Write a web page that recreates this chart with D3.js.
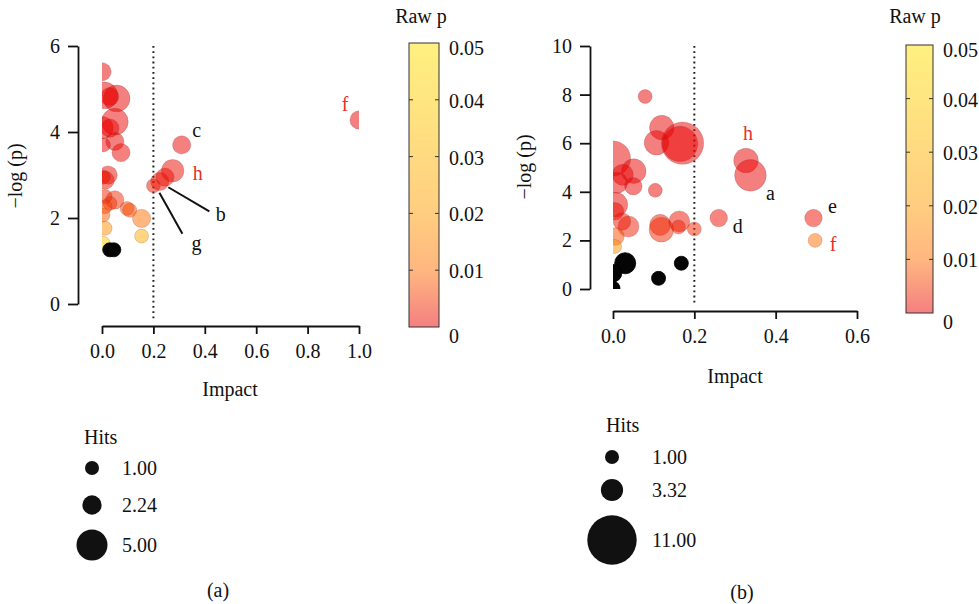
<!DOCTYPE html>
<html><head><meta charset="utf-8">
<script src="https://cdn.jsdelivr.net/npm/d3@7"></script>
<style>
html,body{margin:0;padding:0;background:#fff;}
svg text{font-family:"Liberation Serif","DejaVu Serif",serif;fill:#111;}
</style></head><body>
<svg id="chart" width="979" height="604"></svg>
<script>
// ---- Panel (a): pathway impact vs. -log(p) ----
const impactA = [0.000,0.010,0.057,0.030,0.000,0.050,0.031,0.050,0.074,0.006,
                 0.024,0.012,0.005,0.050,0.031,0.012,0.012,0.004,0.012,0.005,
                 0.098,0.108,0.154,0.154,0.200,0.225,0.245,0.275,0.310,1.000,
                 0.030,0.046];
const logPA   = [5.40,4.85,4.78,4.82,4.10,4.24,4.09,3.78,3.52,3.70,
                 3.00,2.88,2.95,2.42,2.34,2.50,2.26,2.07,1.76,1.41,
                 2.22,2.18,1.99,1.58,2.75,2.85,2.95,3.10,3.70,4.28,
                 1.26,1.26];
const hitsA   = [2,4,4,2,3,4,2,2,2,1,
                 2,2,1,2,1,1,1,1,1,1,
                 1,1,2,1,1,2,2,3,2,2,
                 1,1];
const xTicksA = [0,0.2,0.4,0.6,0.8,1.0];
const yTicksA = [0,2,4,6];
const hitsLegendA = [1.00,2.24,5.00];
const labelNamesA = ["c","h","b","g","f"];
const labelPointA = [28,27,25,24,29];
const labelRedA   = [false,true,false,false,true];

// ---- Panel (b) ----
const impactB = [0.079,0.120,0.107,0.171,0.165,0.327,0.338,0.104,0.260,0.493,
                 0.497,0.000,0.051,0.024,0.050,0.010,0.006,0.005,0.038,0.022,
                 0.006,0.004,0.116,0.119,0.163,0.161,0.200,0.030,0.000,0.112,
                 0.168,0.000];
const logPB   = [7.92,6.64,6.02,6.00,5.97,5.29,4.68,4.06,2.92,2.92,
                 2.00,5.37,4.85,4.70,4.23,4.37,3.47,3.20,2.57,2.78,
                 2.16,1.75,2.64,2.44,2.78,2.55,2.47,1.06,0.65,0.44,
                 1.06,0.03];
const hitsB   = [1,4,4,9,7,4,6,1,2,2,
                 1,7,4,3,2,3,4,2,3,2,
                 2,1,3,4,3,1,1,3,2,1,
                 1,1];
const xTicksB = [0,0.2,0.4,0.6];
const yTicksB = [0,2,4,6,8,10];
const hitsLegendB = [1.00,3.32,11.00];
const labelNamesB = ["h","a","d","e","f"];
const labelPointB = [5,6,8,9,10];
const labelRedB   = [true,false,false,false,true];

// ---- shared colour key for raw p ----
const pTicks  = [0,0.01,0.02,0.03,0.04,0.05];
const pColors = ["#ea0000","#ff6e00","#ff9c00","#ffb400","#ffcc00","#ffe100"];
const impactThreshold = 0.2;

const svg = d3.select("#chart");
const defs = svg.append("defs");
const pColor = d3.scaleLinear().domain(pTicks).range(pColors).clamp(true);
const RED = "#e3312b";

function drawPanel(cfg) {
  const g = svg.append("g");
  const x = d3.scaleLinear().domain(cfg.xDomain).range([cfg.x0, cfg.x1]);
  const y = d3.scaleLinear().domain(cfg.yDomain).range([cfg.y0, cfg.y1]);
  const r = d3.scaleLinear().domain([1, cfg.hitsLegend[cfg.hitsLegend.length-1]]).range(cfg.rRange);

  // axes, offset from the data area
  const yAxis = d3.axisLeft(y).tickValues(cfg.yTicks).tickSize(10).tickSizeOuter(0).tickPadding(8).tickFormat(d3.format("d"));
  const gy = g.append("g").attr("transform", `translate(${cfg.yAxisX},0)`).call(yAxis);
  const xAxis = d3.axisBottom(x).tickValues(cfg.xTicks).tickSize(8).tickSizeOuter(0).tickPadding(10).tickFormat(d3.format(".1f"));
  const gx = g.append("g").attr("transform", `translate(0,${cfg.xAxisY})`).call(xAxis);
  [gx, gy].forEach(a => {
    a.select(".domain").attr("stroke", "#111").attr("stroke-width", 1.8);
    a.selectAll(".tick line").attr("stroke", "#111").attr("stroke-width", 1.8);
    a.selectAll(".tick text").style("font-size", "20px").attr("fill", "#111");
  });

  // threshold line
  g.append("line")
    .attr("x1", x(impactThreshold)).attr("x2", x(impactThreshold))
    .attr("y1", y(cfg.yDomain[1])).attr("y2", cfg.xAxisY - 7)
    .attr("stroke", "#222").attr("stroke-width", 2)
    .attr("stroke-dasharray", "1.8,3.4");

  // clipped bubbles
  const clipId = "clip-" + cfg.id;
  defs.append("clipPath").attr("id", clipId).append("rect")
    .attr("x", x(cfg.xDomain[0])).attr("y", y(cfg.yDomain[1]))
    .attr("width", x(cfg.xDomain[1]) - x(cfg.xDomain[0]))
    .attr("height", y(cfg.yDomain[0]) - y(cfg.yDomain[1]));
  const pts = cfg.impact.map((v, i) => ({ impact: v, lp: cfg.logP[i], hits: cfg.hits[i], p: Math.pow(10, -cfg.logP[i]) }));
  g.append("g").attr("clip-path", `url(#${clipId})`)
    .selectAll("circle").data(pts).join("circle")
    .attr("cx", d => x(d.impact)).attr("cy", d => y(d.lp)).attr("r", d => r(d.hits))
    .attr("fill", d => d.p > 0.05 ? "#050505" : pColor(d.p))
    .attr("fill-opacity", d => d.p > 0.05 ? 1 : 0.5)
    .attr("stroke", d => d.p > 0.05 ? "#000" : "#7a3030")
    .attr("stroke-opacity", d => d.p > 0.05 ? 1 : 0.25)
    .attr("stroke-width", 0.8);

  // point labels
  cfg.labelNames.forEach((name, k) => {
    const d = pts[cfg.labelPoint[k]];
    const px = x(d.impact), py = y(d.lp);
    const o = cfg.labelOffsets[k];
    if (o.line) {
      g.append("line")
        .attr("x1", px + o.line[0]).attr("y1", py + o.line[1])
        .attr("x2", px + o.line[2]).attr("y2", py + o.line[3])
        .attr("stroke", "#111").attr("stroke-width", 2);
    }
    g.append("text").attr("x", px + o.dx).attr("y", py + o.dy)
      .attr("text-anchor", "middle").attr("dy", "0.35em")
      .style("font-size", "20px")
      .style("fill", cfg.labelRed[k] ? RED : "#111")
      .text(name);
  });

  // axis titles
  g.append("text").attr("transform", `translate(${cfg.yLabel[0]},${cfg.yLabel[1]}) rotate(-90)`)
    .attr("text-anchor", "middle").style("font-size", "20px").text("\u2212log (p)");
  g.append("text").attr("x", cfg.xLabel[0]).attr("y", cfg.xLabel[1])
    .attr("text-anchor", "middle").style("font-size", "20px").text("Impact");

  // colour bar
  const cb = cfg.cbar;
  const gradId = "grad-" + cfg.id;
  const grad = defs.append("linearGradient").attr("id", gradId)
    .attr("x1", 0).attr("y1", 1).attr("x2", 0).attr("y2", 0);
  pTicks.forEach((p, i) => grad.append("stop")
    .attr("offset", p / pTicks[pTicks.length-1])
    .attr("stop-color", pColors[i]).attr("stop-opacity", 0.5));
  const cy = d3.scaleLinear().domain([0, 0.05]).range([cb.bottom, cb.top]);
  g.append("rect").attr("x", cb.x).attr("y", cb.top).attr("width", cb.w).attr("height", cb.bottom - cb.top)
    .attr("fill", `url(#${gradId})`).attr("stroke", "#333").attr("stroke-width", 1);
  pTicks.slice(1, -1).forEach(p => {
    g.append("line").attr("x1", cb.x).attr("x2", cb.x + 4).attr("y1", cy(p)).attr("y2", cy(p)).attr("stroke", "#333");
    g.append("line").attr("x1", cb.x + cb.w - 4).attr("x2", cb.x + cb.w).attr("y1", cy(p)).attr("y2", cy(p)).attr("stroke", "#333");
  });
  pTicks.forEach((p, i) => {
    const shift = i === 0 ? 9 : (i === pTicks.length - 1 ? 5 : 1);
    g.append("text").attr("x", cb.x + cb.w + 10).attr("y", cy(p) + shift).attr("dy", "0.35em")
      .style("font-size", "20px").text(p === 0 ? "0" : d3.format(".2f")(p));
  });
  g.append("text").attr("x", cfg.rawTitle[0]).attr("y", cfg.rawTitle[1]).attr("dy", "0.35em")
    .attr("text-anchor", "middle").style("font-size", "20px").text("Raw p");

  // size legend
  const lg = cfg.legend;
  g.append("text").attr("x", lg.titleX).attr("y", lg.titleY).attr("dy", "0.35em")
    .style("font-size", "20px").text("Hits");
  cfg.hitsLegend.forEach((h, i) => {
    g.append("circle").attr("cx", lg.cx).attr("cy", lg.ys[i]).attr("r", r(h)).attr("fill", "#111");
    g.append("text").attr("x", lg.labelX).attr("y", lg.ys[i]).attr("dy", "0.35em")
      .style("font-size", "20px").text(d3.format(".2f")(h));
  });

  // panel caption
  g.append("text").attr("x", cfg.caption[0]).attr("y", cfg.caption[1]).attr("dy", "0.35em")
    .attr("text-anchor", "middle").style("font-size", "20px").text(cfg.captionText);
}

drawPanel({
  id: "a", impact: impactA, logP: logPA, hits: hitsA,
  xDomain: [0, 1], yDomain: [0, 6], xTicks: xTicksA, yTicks: yTicksA,
  x0: 102, x1: 359, y0: 304, y1: 46, yAxisX: 78, xAxisY: 326,
  rRange: [7, 15.5], hitsLegend: hitsLegendA,
  labelNames: labelNamesA, labelPoint: labelPointA, labelRed: labelRedA,
  labelOffsets: [
    { dx: 15, dy: -15 },
    { dx: 25, dy: 2 },
    { dx: 61, dy: 33, line: [8.5, 5.8, 49.5, 30] },
    { dx: 43, dy: 57, line: [6, 7, 29, 48] },
    { dx: -14, dy: -16 }
  ],
  yLabel: [22, 176], xLabel: [230, 396],
  cbar: { x: 409, w: 30, top: 43, bottom: 327 }, rawTitle: [421, 16],
  legend: { titleX: 84, titleY: 437, cx: 92, ys: [468, 505, 545], labelX: 122 },
  caption: [218, 590], captionText: "(a)"
});

drawPanel({
  id: "b", impact: impactB, logP: logPB, hits: hitsB,
  xDomain: [0, 0.6], yDomain: [0, 10], xTicks: xTicksB, yTicks: yTicksB,
  x0: 613, x1: 857, y0: 289, y1: 46, yAxisX: 590, xAxisY: 311,
  rRange: [7, 24.7], hitsLegend: hitsLegendB,
  labelNames: labelNamesB, labelPoint: labelPointB, labelRed: labelRedB,
  labelOffsets: [
    { dx: 2, dy: -27 },
    { dx: 20, dy: 18 },
    { dx: 19, dy: 8 },
    { dx: 19, dy: -12 },
    { dx: 18, dy: 4 }
  ],
  yLabel: [531, 167], xLabel: [735, 383],
  cbar: { x: 906, w: 27, top: 45, bottom: 313 }, rawTitle: [915, 16],
  legend: { titleX: 606, titleY: 425, cx: 612, ys: [457, 490, 540], labelX: 652 },
  caption: [742, 592], captionText: "(b)"
});
</script>
</body></html>
